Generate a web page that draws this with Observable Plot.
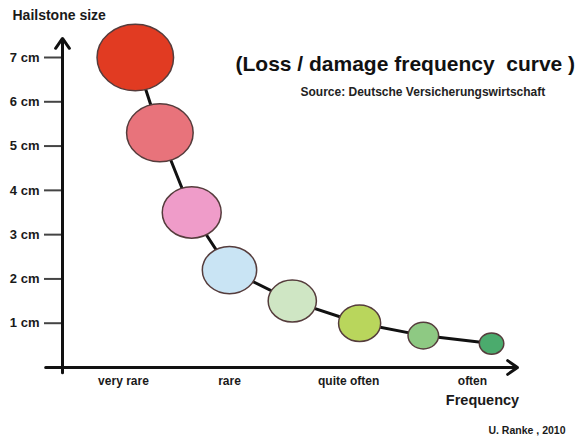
<!DOCTYPE html>
<html><head><meta charset="utf-8">
<script src="https://cdn.jsdelivr.net/npm/d3@7"></script>
<script src="https://cdn.jsdelivr.net/npm/@observablehq/plot@0.6"></script>
<style>html,body{margin:0;padding:0;background:#fff} svg{display:block}</style>
</head><body><div id="chart"></div>
<script>
// ---- data ----
const frequency = [16.0, 21.4, 28.4, 36.7, 50.5, 65.3, 79.3, 94.3];   // relative frequency position
const hailSize  = [7.0, 5.3, 3.5, 2.2, 1.5, 1.0, 0.72, 0.54];          // hailstone size (cm)
const bubble    = [10, 8.7, 7.7, 7.1, 6.3, 5.5, 4.0, 3.2];             // relative marker size
const sizeTicks = [1, 2, 3, 4, 5, 6, 7];
const freqTicks = [13.4, 36.7, 62.9, 90.1];
const freqLabels = ["very rare", "rare", "quite often", "often"];
const palette = ["#e13b22", "#e8737b", "#ef9cc9", "#c9e4f4", "#cfe6c4", "#b9d65c", "#8ec983", "#4bab6d"];

const points = frequency.map((f, i) => ({freq: f, size: hailSize[i], bubble: bubble[i], id: i}));

// ellipse symbol (slightly wider than tall)
const K = 1.072;
const ellipse = {
  draw(ctx, size) {
    const r = Math.sqrt(size / Math.PI), rx = r * K, ry = r / K, k = 0.5522847498;
    ctx.moveTo(rx, 0);
    ctx.bezierCurveTo(rx, ry * k, rx * k, ry, 0, ry);
    ctx.bezierCurveTo(-rx * k, ry, -rx, ry * k, -rx, 0);
    ctx.bezierCurveTo(-rx, -ry * k, -rx * k, -ry, 0, -ry);
    ctx.bezierCurveTo(rx * k, -ry, rx, -ry * k, rx, 0);
    ctx.closePath();
  }
};

const xStart = -3.7, xEnd = 100, yStart = -0.12, yEnd = 7.43;

const chart = Plot.plot({
  width: 581,
  height: 437,
  marginLeft: 62,
  marginRight: 64,
  marginTop: 57,
  marginBottom: 70,
  style: {fontFamily: "'Liberation Sans', Arial, sans-serif", fontSize: "12px", fontWeight: "bold", background: "#fff", color: "#1a1a1a", overflow: "visible"},
  x: {domain: [0, 100]},
  y: {domain: [0, 7]},
  r: {type: "linear", domain: [0, 10], range: [0, 35.7]},
  color: {type: "ordinal", domain: d3.range(palette.length), range: palette},
  marks: [
    Plot.axisY({ticks: sizeTicks, tickFormat: d => `${d} cm`, tickSize: 18, tickPadding: 5, stroke: "#444", strokeWidth: 2, fill: "#1a1a1a", fontSize: 13, label: null}),
    Plot.axisX({ticks: freqTicks, tickFormat: d => freqLabels[freqTicks.indexOf(d)], tickSize: 0, tickPadding: 9, fill: "#1a1a1a", fontSize: 12, label: null}),
    Plot.arrow([{x1: xStart, x2: xEnd, y: 0}], {x1: "x1", x2: "x2", y1: "y", y2: "y", stroke: "#111", strokeWidth: 3, headLength: 6, headAngle: 70}),
    Plot.arrow([{x: 0, y1: yStart, y2: yEnd}], {x1: "x", x2: "x", y1: "y1", y2: "y2", stroke: "#111", strokeWidth: 3, headLength: 6, headAngle: 70}),
    Plot.line(points, {x: "freq", y: "size", stroke: "#111", strokeWidth: 3}),
    Plot.dot(points, {x: "freq", y: "size", r: "bubble", symbol: ellipse, fill: "id", stroke: "#553c3c", strokeWidth: 1.5, sort: null}),
    Plot.text(["Hailstone size"], {frameAnchor: "top-left", textAnchor: "start", lineAnchor: "middle", dx: -50, dy: -42, fontSize: 14, fill: "#1a1a1a"}),
    Plot.text(["(Loss / damage frequency  curve )"], {frameAnchor: "top-left", textAnchor: "start", lineAnchor: "middle", dx: 173, dy: 7, fontSize: 21, fill: "#111"}),
    Plot.text(["Source: Deutsche Versicherungswirtschaft"], {frameAnchor: "top-left", textAnchor: "start", lineAnchor: "middle", dx: 238, dy: 35, fontSize: 12, fill: "#222"}),
    Plot.text(["Frequency"], {frameAnchor: "bottom-left", textAnchor: "middle", lineAnchor: "middle", dx: 420, dy: 33, fontSize: 14.5, fill: "#1a1a1a"}),
    Plot.text(["U. Ranke , 2010"], {frameAnchor: "bottom-left", textAnchor: "end", lineAnchor: "middle", dx: 503, dy: 63, fontSize: 10.5, fill: "#1a1a1a"})
  ]
});
document.getElementById("chart").appendChild(chart);
</script>
</body></html>
